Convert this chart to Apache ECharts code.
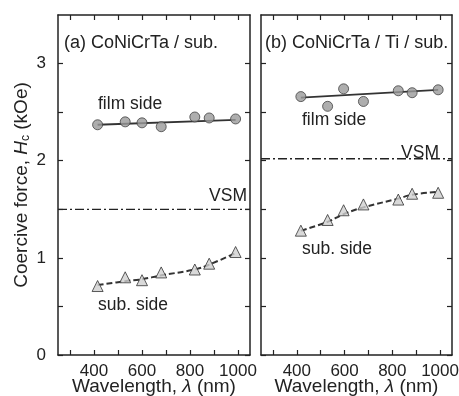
<!DOCTYPE html>
<html><head><meta charset="utf-8">
<script src="https://cdn.jsdelivr.net/npm/echarts@6/dist/echarts.min.js"></script>
<style>html,body{margin:0;padding:0;background:#fff}#c{width:459px;height:396px}</style>
</head><body><div id="c"></div>
<script>
// ---- data ----
const wavelengthsA = [415, 530, 600, 680, 820, 880, 990];
const filmA = [2.37, 2.40, 2.39, 2.35, 2.45, 2.44, 2.43];
const subA  = [0.71, 0.80, 0.77, 0.85, 0.88, 0.94, 1.06];
const filmFitA = [[415, 2.37], [990, 2.42]];
const subFitA  = [[415, 0.72], [530, 0.76], [600, 0.78], [680, 0.82], [820, 0.88], [880, 0.93], [990, 1.05]];
const vsmA = 1.5;

const wavelengthsB = [417, 529, 596, 679, 825, 883, 992];
const filmB = [2.66, 2.56, 2.74, 2.61, 2.72, 2.70, 2.73];
const subB  = [1.28, 1.39, 1.49, 1.55, 1.60, 1.66, 1.67];
const filmFitB = [[417, 2.65], [992, 2.73]];
const subFitB  = [[417, 1.28], [529, 1.37], [596, 1.45], [679, 1.52], [825, 1.61], [883, 1.65], [992, 1.68]];
const vsmB = 2.02;

const xTicks = [300, 400, 500, 600, 700, 800, 900, 1000];
const xLabels = [400, 600, 800, 1000];
const yTicks = [0, 0.5, 1, 1.5, 2, 2.5, 3];
const yLabels = [0, 1, 2, 3];
const xRange = [250, 1050];
const yRange = [0, 3.5];

const FONT = '"Liberation Sans", Arial, sans-serif';
const INK = '#222';

function zip(xs, ys) { return xs.map((x, i) => [x, ys[i]]); }

function xAx(grid, pos, labels) {
  return {
    type: 'value', gridIndex: grid, position: pos, min: xRange[0], max: xRange[1],
    axisLine: {show: true, onZero: false, lineStyle: {color: INK, width: 1.5}},
    axisTick: {show: true, inside: true, length: 5, customValues: xTicks, lineStyle: {color: INK, width: 1.2}},
    axisLabel: {show: labels, customValues: xLabels, margin: 8, color: INK, fontSize: 17, fontFamily: FONT,
      formatter: v => String(v)},
    splitLine: {show: false},
    name: labels ? 'Wavelength, {i|λ} (nm)' : '', nameLocation: 'middle', nameGap: 22, nameMoveOverlap: false,
    nameTextStyle: {color: INK, fontSize: 19, fontFamily: FONT, rich: {i: {fontStyle: 'italic', fontSize: 19, fontFamily: FONT, color: INK}}}
  };
}
function yAx(grid, pos, labels, named) {
  return {
    type: 'value', gridIndex: grid, position: pos, min: yRange[0], max: yRange[1],
    axisLine: {show: true, onZero: false, lineStyle: {color: INK, width: 1.5}},
    axisTick: {show: true, inside: true, length: 5, customValues: yTicks, lineStyle: {color: INK, width: 1.2}},
    axisLabel: {show: labels, customValues: yLabels, margin: 12, color: INK, fontSize: 17, fontFamily: FONT,
      formatter: v => String(v)},
    splitLine: {show: false},
    name: named ? 'Coercive force, {i|H}{s|c} (kOe)' : '', nameLocation: 'middle', nameGap: 26, nameMoveOverlap: false,
    nameTextStyle: {color: INK, fontSize: 19, fontFamily: FONT, rich: {
      i: {fontStyle: 'italic', fontSize: 19, fontFamily: FONT, color: INK},
      s: {fontSize: 12, fontFamily: FONT, color: INK, verticalAlign: 'bottom', padding: [9, 0, 0, 0]}}}
  };
}

function fitLine(data, xi, yi, dashed) {
  return {type: 'line', xAxisIndex: xi, yAxisIndex: yi, data: data, smooth: dashed ? 0.4 : false,
    symbol: 'none', silent: true, z: 2,
    lineStyle: {color: '#333', width: dashed ? 2 : 1.8, type: dashed ? [6, 3] : 'solid'}};
}
function points(data, xi, yi, kind) {
  return {type: 'scatter', xAxisIndex: xi, yAxisIndex: yi, data: data, z: 3,
    symbol: kind === 'circle' ? 'circle' : 'triangle', symbolSize: kind === 'circle' ? 10 : 11,
    itemStyle: kind === 'circle' ? {color: '#9a9a9a', borderColor: '#444', borderWidth: 1}
                                 : {color: '#cfcfcf', borderColor: '#333', borderWidth: 1}};
}
function vsmLine(v, xi, yi) {
  return {type: 'line', xAxisIndex: xi, yAxisIndex: yi, data: [[xRange[0], v], [xRange[1], v]],
    symbol: 'none', silent: true, lineStyle: {color: '#222', width: 1.3, type: [9, 3, 2, 3]}};
}

const txt = (x, y, s, size, align) => ({type: 'text', x: x, y: y,
  style: {text: s, fill: INK, font: size + 'px ' + FONT, textAlign: align || 'left', textVerticalAlign: 'middle'}});

const chart = echarts.init(document.getElementById('c'), null, {renderer: 'canvas'});
chart.setOption({
  animation: false,
  backgroundColor: '#fff',
  grid: [
    {left: 58, top: 15, width: 192, height: 340, outerBoundsMode: 'none', containLabel: false},
    {left: 261, top: 15, width: 191, height: 340, outerBoundsMode: 'none', containLabel: false}
  ],
  xAxis: [xAx(0, 'bottom', true), xAx(1, 'bottom', true), xAx(0, 'top', false), xAx(1, 'top', false)],
  yAxis: [yAx(0, 'left', true, true), yAx(1, 'left', false, false), yAx(0, 'right', false, false), yAx(1, 'right', false, false)],
  series: [
    vsmLine(vsmA, 0, 0),
    fitLine(filmFitA, 0, 0, false),
    fitLine(subFitA, 0, 0, true),
    points(zip(wavelengthsA, filmA), 0, 0, 'circle'),
    points(zip(wavelengthsA, subA), 0, 0, 'triangle'),
    vsmLine(vsmB, 1, 1),
    fitLine(filmFitB, 1, 1, false),
    fitLine(subFitB, 1, 1, true),
    points(zip(wavelengthsB, filmB), 1, 1, 'circle'),
    points(zip(wavelengthsB, subB), 1, 1, 'triangle')
  ],
  graphic: [
    txt(64, 43, '(a) CoNiCrTa / sub.', 18),
    txt(98, 104, 'film side', 17.5),
    txt(247, 196, 'VSM', 17.5, 'right'),
    txt(98, 305, 'sub. side', 17.5),
    txt(265, 43, '(b) CoNiCrTa / Ti / sub.', 18),
    txt(302, 120, 'film side', 17.5),
    txt(439, 153, 'VSM', 17.5, 'right'),
    txt(302, 249, 'sub. side', 17.5)
  ]
});
</script></body></html>
